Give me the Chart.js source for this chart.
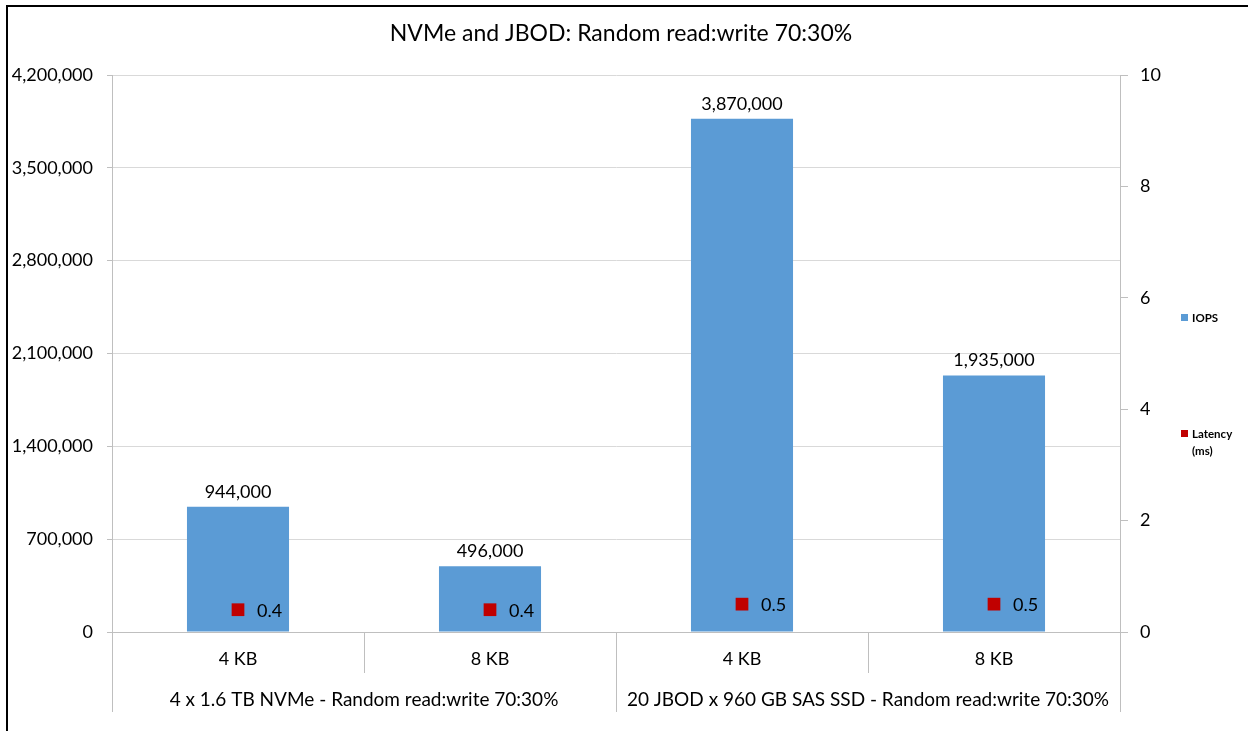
<!DOCTYPE html>
<html>
<head>
<meta charset="utf-8">
<script src="https://cdn.jsdelivr.net/npm/chart.js@4.4.1/dist/chart.umd.min.js"></script>
<style>
  html, body { margin: 0; padding: 0; background: #fff; }
  #wrap { width: 1248px; height: 731px; }
</style>
</head>
<body>
<div id="wrap"><canvas id="chart" width="1248" height="731"></canvas></div>
<script>
// Chart data
const categories = ['4 KB', '8 KB', '4 KB', '8 KB'];
const groupLabels = ['4 x 1.6 TB NVMe - Random read:write 70:30%', '20 JBOD x 960 GB SAS SSD - Random read:write 70:30%'];
const groupSizes = [2, 2];
const iops = [944000, 496000, 3870000, 1935000];
const latency = [0.4, 0.4, 0.5, 0.5];
const iopsTicks = [0, 700000, 1400000, 2100000, 2800000, 3500000, 4200000];
const latencyTicks = [0, 2, 4, 6, 8, 10];

const FONT = "Lato, 'Open Sans', sans-serif";
const GRID = '#d9d9d9';
const AXIS = '#bfbfbf';

// Draws border, title, value labels, two-level axis and legend
const decorations = {
    id: 'decorations',
    beforeDraw(chart) {
        const c = chart.ctx;
        c.save();
        c.fillStyle = '#fff';
        c.fillRect(0, 0, chart.width, chart.height);
        c.strokeStyle = '#000';
        c.lineWidth = 2;
        c.strokeRect(7, 6, chart.width + 20, chart.height + 20);
        c.fillStyle = '#000';
        c.font = '23px ' + FONT;
        c.textAlign = 'center';
        c.textBaseline = 'middle';
        c.fillText('NVMe and JBOD: Random read:write 70:30%', 621, 34);
        c.restore();
    },
    afterDatasetsDraw(chart) {
        const c = chart.ctx;
        c.save();
        c.fillStyle = '#000';
        c.font = '18px ' + FONT;
        // bar value labels
        const bars = chart.getDatasetMeta(1).data;
        c.textAlign = 'center';
        c.textBaseline = 'bottom';
        bars.forEach((b, i) => {
            c.fillText(iops[i].toLocaleString('en-US'), b.x, b.y - 6);
        });
        // latency labels
        const pts = chart.getDatasetMeta(0).data;
        c.textAlign = 'left';
        c.textBaseline = 'middle';
        pts.forEach((p, i) => {
            c.fillText(latency[i].toFixed(1), p.x + 19, p.y + 1);
        });
        c.restore();
    },
    afterDraw(chart) {
        const c = chart.ctx;
        const x = chart.scales.x;
        const area = chart.chartArea;
        c.save();
        c.strokeStyle = AXIS;
        c.lineWidth = 1;
        // category separators
        const bounds = [area.left];
        for (let i = 1; i < categories.length; i++) {
            bounds.push((x.getPixelForValue(i - 1) + x.getPixelForValue(i)) / 2);
        }
        bounds.push(area.right);
        let groupEdges = [0];
        groupSizes.reduce((acc, n) => { groupEdges.push(acc + n); return acc + n; }, 0);
        bounds.forEach((bx, i) => {
            const isGroup = groupEdges.includes(i);
            const px = Math.round(bx) + 0.5;
            c.beginPath();
            c.moveTo(px, area.bottom);
            c.lineTo(px, area.bottom + (isGroup ? 80 : 41));
            c.stroke();
        });
        // group labels
        c.fillStyle = '#000';
        c.font = '19px ' + FONT;
        c.textAlign = 'center';
        c.textBaseline = 'middle';
        groupLabels.forEach((g, i) => {
            const x0 = bounds[groupEdges[i]];
            const x1 = bounds[groupEdges[i + 1]];
            c.fillText(g, (x0 + x1) / 2, area.bottom + 68);
        });
        // legend
        const items = [
            { color: '#5b9bd5', lines: ['IOPS'], y: 318 },
            { color: '#c00000', lines: ['Latency', '(ms)'], y: 434 }
        ];
        c.font = 'bold 11.5px ' + FONT;
        c.textAlign = 'left';
        items.forEach(it => {
            c.fillStyle = it.color;
            c.fillRect(1181, it.y - 4, 7, 7);
            c.fillStyle = '#000';
            it.lines.forEach((l, k) => c.fillText(l, 1192, it.y + k * 17));
        });
        c.restore();
    }
};

new Chart(document.getElementById('chart'), {
    data: {
        labels: categories,
        datasets: [
            {
                type: 'line',
                label: 'Latency (ms)',
                data: latency,
                yAxisID: 'y2',
                showLine: false,
                pointStyle: 'rect',
                pointRadius: 9,
                pointBackgroundColor: '#c00000',
                pointBorderColor: '#c00000',
                pointBorderWidth: 0,
                order: 0
            },
            {
                type: 'bar',
                label: 'IOPS',
                data: iops,
                yAxisID: 'y',
                backgroundColor: '#5b9bd5',
                categoryPercentage: 1,
                barPercentage: 0.405,
                order: 1
            }
        ]
    },
    options: {
        responsive: false,
        animation: false,
        layout: { padding: { top: 75, left: 0, right: 0, bottom: 0 } },
        plugins: {
            legend: { display: false },
            title: { display: false },
            tooltip: { enabled: false }
        },
        scales: {
            x: {
                offset: true,
                grid: { display: false },
                border: { display: true, color: AXIS },
                ticks: { font: { family: FONT, size: 18 }, color: '#000', padding: 8 },
                afterFit(scale) { scale.height = 99; }
            },
            y: {
                position: 'left',
                min: 0,
                max: 4200000,
                afterBuildTicks(scale) { scale.ticks = iopsTicks.map(v => ({ value: v })); },
                grid: { color: GRID, tickLength: 5, tickColor: AXIS },
                border: { display: true, color: AXIS },
                ticks: {
                    font: { family: FONT, size: 18 },
                    color: '#000',
                    padding: 14,
                    callback: v => v.toLocaleString('en-US')
                },
                afterFit(scale) { scale.width = 112; }
            },
            y2: {
                position: 'right',
                min: 0,
                max: 10,
                afterBuildTicks(scale) { scale.ticks = latencyTicks.map(v => ({ value: v })); },
                grid: { drawOnChartArea: false, tickLength: 8, color: AXIS },
                border: { display: true, color: AXIS },
                ticks: { font: { family: FONT, size: 18 }, color: '#000', padding: 12 },
                afterFit(scale) { scale.width = 128; }
            }
        }
    },
    plugins: [decorations]
});
</script>
</body>
</html>
